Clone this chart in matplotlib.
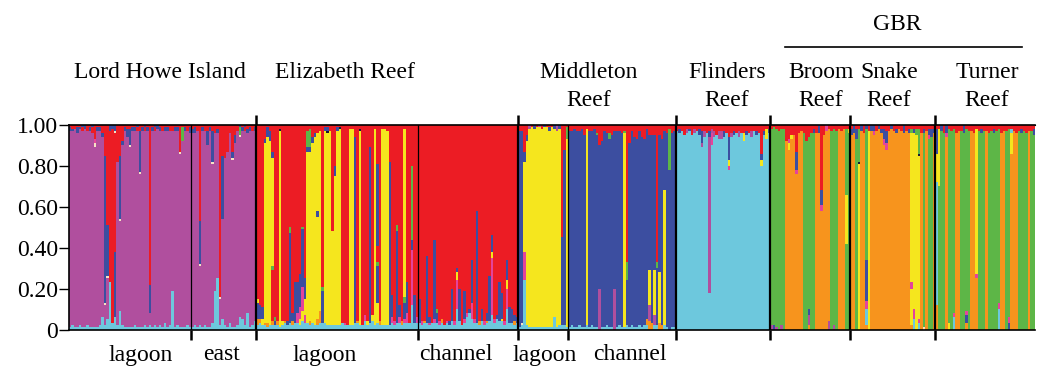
import matplotlib
matplotlib.use("Agg")
import matplotlib.pyplot as plt

plt.rcParams['font.family'] = ['Liberation Serif', 'DejaVu Serif']

# cluster colours
cluster_colors = {
    'P': '#B04F9E',  # purple
    'R': '#EC1C24',  # red
    'B': '#3C4EA0',  # blue
    'Y': '#F5E61E',  # yellow
    'C': '#6DC8DD',  # cyan
    'G': '#5DB647',  # green
    'O': '#F7941D',  # orange
    'M': '#E4449B',  # pink
    'W': '#F6E2C4',  # pale dot
    'K': '#1A1A30',  # dark dot
}

# each individual: cluster memberships (percent), listed bottom to top
lhi_lagoon = [
    "C1 P96 B2 R1", "C2 P95 B1 R2", "C1 P97 R2", "C1 P95 B3 R1", "C2 P96 B1 R1",
    "C1 P96 R2 B1", "C1 P97 B2", "C2 P95 R3", "C1 P96 B2 R1", "C1 P95 R3 B1",
    "C1 P88 W2 M2 R7", "C1 P96 B2 R1", "C2 P95 B2 R1", "C6 P88 B2 R4",
    "C2 P10 W1 B72 R15", "C5 P20 W1 B25 R49", "C23 R74 B3", "C3 R95 B2",
    "C6 B32 R58 W1 B3", "C2 P80 R18", "C9 P44 W1 B31 R15", "C2 P88 B2 R8",
    "C1 P96 B2 R1", "C1 P93 B4 R2", "C1 P88 W1 B8 R2", "C1 P96 B2 R1",
    "C2 P95 B2 R1", "C1 P96 R2 B1", "C1 P75 W1 B20 R3", "C1 P96 B2 R1",
    "C2 P95 R2 B1", "C1 P96 B2 R1", "C2 P6 B14 R78", "C1 P96 B2 R1",
    "C2 P95 R2 B1", "C1 P97 B2", "C2 P95 B2 R1", "C1 P96 R3", "C3 P94 B2 R1",
    "C1 P96 B2 R1", "C2 P95 R3", "C19 P78 R3", "C1 P96 B2 R1", "C2 P95 B2 R1",
    "C1 P85 W1 R13", "C1 P91 G7 R1", "C1 P96 B2 R1", "C2 P95 R3", "C1 P95 B3 R1",
]
lhi_east = [
    "C1 P95 B2 R2", "C2 P94 B3 R1", "C1 P96 R3", "C2 P29 W1 B21 R47",
    "C1 P96 B2 R1", "C2 P95 R3", "C1 P89 B7 R3", "C1 P96 B2 R1",
    "C3 P78 W1 B15 R3", "C19 P77 R4", "C25 P71 B2 R2", "C2 P13 W1 R84",
    "C5 P49 B31 R15", "C2 P82 R16", "C1 P86 R13", "C3 P93 R4",
    "C1 P82 W1 B3 R13", "C1 P90 B4 R5", "C2 P95 R3", "C6 P88 W1 G4 B1",
    "C5 P92 B2 R1", "C2 P95 R2 B1", "C8 P88 B2 R2", "C1 P96 B2 R1",
    "C2 P95 R3", "C4 P93 B2 R1",
]
eliz_lagoon = [
    "C2 O3 B8 Y2 R85", "C3 O2 B7 R88", "C2 Y3 B6 R89", "C2 O1 Y88 B2 R7",
    "C1 O2 Y91 B5 R1", "C2 Y90 B5 R3", "C2 O2 R25 G2 Y53 B3 R13", "C2 B2 G2 R94",
    "C2 O2 R96", "C1 Y96 K1 R2", "C2 Y2 R96", "C3 O1 R96", "C2 B2 R96",
    "C3 B44 G3 R50", "C2 O2 B4 R92", "C3 B20 R77", "C3 M5 B15 R77",
    "C2 Y3 M6 B16 R73", "C4 Y5 M12 B28 G1 R50", "C3 M4 Y8 B10 R75",
    "C3 Y84 B2 G8 R3", "C2 O2 Y83 B2 G9 R2", "C3 Y88 B3 R6", "C2 Y92 B2 R4",
    "C2 O3 Y50 B3 Y38 R4", "C3 O6 Y88 R3", "C3 B16 G2 R79", "C3 Y94 B2 R1",
    "C2 Y94 K1 B2 R1", "C2 Y95 R3", "C2 Y46 R52", "C2 Y73 B5 R20",
    "C2 Y95 B2 R1", "C2 Y96 K1 R1", "C3 R97", "C2 M1 R97", "C2 R98",
    "C2 Y96 R2", "C2 Y96 R2", "C3 B91 R6", "C3 O1 R96", "C2 Y95 K1 R2",
    "C2 R98", "C4 M3 R93", "C2 Y2 R96", "C3 B86 R11", "C4 Y3 R93", "C2 Y96 R2",
    "C3 Y10 B18 G2 R8 B40 R19", "C2 O2 R96", "C2 Y96 R2", "C2 Y96 R2",
    "C2 Y95 R3", "C2 B80 R18", "C3 M3 B11 R83", "C2 M2 R96", "C3 B45 G3 R49",
    "C3 M3 B6 R88", "C2 O2 R96", "C3 M2 B8 G3 Y82 R2", "C3 M5 B15 R77",
    "C3 R97", "C12 M27 B5 G36 R20", "C3 B14 R83", "C3 M3 R94",
]
eliz_channel = [
    "C3 B12 R85", "C2 M2 R96", "C3 O1 R96", "C3 B33 R64", "C2 M1 B3 R94",
    "C3 R97", "C3 M2 B39 R56", "C3 B5 G2 R90", "C2 M2 R96", "C3 O2 R95",
    "C2 R98", "C3 M1 R96", "C2 B2 R96", "C4 B16 R80", "C2 M2 R96",
    "C10 M14 Y4 B2 R70", "C4 B16 R80", "C2 R98", "C3 M2 B14 R81", "C6 M2 R92",
    "C8 B2 R90", "C5 M8 B21 R66", "C3 M2 R95", "C3 B55 R42", "C2 O2 R96",
    "C4 B6 R90", "C2 M2 R96", "C3 O1 B4 R92", "C4 B22 R74", "C7 M28 Y3 B8 R54",
    "C3 M2 R95", "C5 B2 R93", "C4 B19 R77", "C4 Y1 B13 R82", "C2 M2 R96",
    "C10 M10 Y4 B10 R66", "C3 B8 R89", "C3 B7 R90", "C2 O2 B3 R93", "C3 B3 R94",
]
midd_lagoon = [
    "C1 B96 R3", "C2 W1 B94 R3", "C24 M14 Y44 B5 R13", "C2 Y90 B3 R5",
    "C1 Y97 P2", "C1 Y98 R1", "C1 Y97 B2", "C1 Y98 R1", "C1 Y98 P1",
    "C1 Y97 R2", "C1 Y98 B1", "C1 Y98 R1", "C1 Y96 B2 R1", "C1 Y98 R1",
    "C6 Y92 B2", "C1 Y96 P3", "C2 Y96 B2", "C2 B43 R55", "C2 B86 R12",
    "C1 Y92 G6 R1",
]
midd_channel = [
    "C1 B96 R3", "C2 B95 R3", "C1 B97 R2", "C1 B96 R3", "C2 B95 R3",
    "C1 B97 R2", "C1 B94 R5", "C2 Y96 R2", "C1 B96 R3", "C2 B95 R3",
    "C1 B97 R2", "C1 B94 G1 R4", "P20 B70 R10", "C1 B91 R8", "C1 B96 R3",
    "C2 B94 R4", "C1 B92 G3 R4", "C1 B94 R5", "P20 B77 R3", "C1 B96 R3",
    "C2 B95 R3", "C1 B95 R4", "C1 Y95 G1 R3", "C2 B22 G9 R67", "C1 B90 R9",
    "C2 B95 R3", "C1 B93 R6", "C1 B92 R7", "C2 B95 R3", "C1 B93 R6",
    "C2 B91 R7", "C2 O3 B93 R2", "O4 P8 Y17 B66 R5", "O3 B92 R5",
    "C2 P5 Y22 B66 R5", "C2 B28 G3 R67", "O3 Y25 B67 R5", "O2 B91 R7",
    "C2 Y66 B29 R3", "C1 B95 R4", "B78 G20 R2", "C1 B95 R4", "C1 B96 R3",
]
flinders = [
    "C97 R3", "C96 B2 R2", "C97 R3", "C95 R5", "C96 P2 R2", "C97 B1 R2",
    "C95 R5", "C96 P2 R2", "C97 R3", "C95 B3 R2", "C89 P2 B6 R3", "C94 P3 R3",
    "C96 R4", "C18 P76 B3 R3", "C90 M6 P2 R2", "C94 P3 R3", "C95 R5",
    "C93 P4 R3", "C93 P4 R3", "C94 B3 R3", "C96 R4", "C78 M2 Y3 B11 R6",
    "C94 P2 R4", "C95 B2 R3", "C96 R4", "C94 P3 R3", "C96 R4", "C92 Y4 R4",
    "C95 B2 R3", "C96 R4", "C94 P3 R3", "C97 R3", "C95 B2 R3", "C96 R4",
    "C80 Y3 B3 R14", "C95 B2 R3", "C93 Y5 R2", "C96 B2 R2",
]
broom = [
    "P2 G96 R2", "B2 G97 R1", "P1 G97 R2", "G97 R3", "P2 G96 R2", "G98 R2",
    "O92 R8", "O88 Y3 M2 R7", "O93 Y2 R5", "O95 R5", "O76 M2 B9 R13",
    "O96 R4", "O97 R3", "G96 R4", "G92 R8", "O2 P5 B3 G84 R6", "G96 R4",
    "G96 B2 R2", "O96 R4", "O96 B4", "O58 M3 B7 R32", "O95 R5", "O97 M3",
    "P4 O94 R2", "G97 R3", "P2 G96 R2", "G97 R3", "O98 R2", "O97 R3",
    "O98 R2", "G42 Y24 G32 R2", "G96 Y2 R2",
]
snake = [
    "O95 B3 R2", "O96 B4", "G93 B5 R2", "Y81 K1 G16 R2", "O97 B3", "O96 R4",
    "O2 C8 M4 B20 G64 B2", "Y97 R3", "O97 B3", "O95 M2 B3", "O97 R3",
    "O98 B2", "O96 B2 R2", "O90 M3 B5 R2", "O88 M3 B6 R3", "O97 R3",
    "O98 B2", "O97 R3", "O96 B2 R2", "O98 R2", "O97 R3", "O96 B4", "O97 R3",
    "O96 B2 R2", "O2 Y18 M3 Y73 G2 R2", "C5 M5 Y86 B2 R2", "Y95 G3 R2",
    "C3 M2 Y80 K1 G12 R2", "O96 R4", "W1 G95 B2 R2", "O97 R3",
    "G93 M2 B3 R2", "G94 B4 R2", "O96 B2 R2",
]
turner = [
    "O12 C60 Y14 B12 R2", "G70 Y28 R2", "G97 B3", "G96 R4", "O94 M2 B4",
    "Y3 G95 R2", "G97 R3", "C6 M2 G90 R2", "O96 R4", "O97 R3", "G97 R3",
    "G96 B4", "O3 B4 M2 G89 R2", "G97 R3", "O97 R3", "O96 R4",
    "O25 M2 Y71 R2", "G97 R3", "G96 B2 R2", "G97 R3", "O97 R3", "G96 R4",
    "G97 R3", "G96 B2 R2", "G97 R3", "C10 M3 G85 R2", "O96 R4", "O97 R3",
    "G97 R3", "B3 M3 G92 R2", "O86 Y10 C2 R2", "O97 R3", "O96 R4", "G97 R3",
    "G96 B2 R2", "G97 R3", "G96 R4", "O97 R3", "G97 R3", "G95 B3 R2",
]

populations = [lhi_lagoon, lhi_east, eliz_lagoon, eliz_channel, midd_lagoon,
               midd_channel, flinders, broom, snake, turner]
# boundaries after each population: site boundary (True) or sub-sample (False)
major_after = [False, True, False, True, False, True, True, True, True]

top_labels = ["Lord Howe Island", "Elizabeth Reef", "Middleton\nReef", "Flinders\nReef",
              "Broom\nReef", "Snake\nReef", "Turner\nReef"]
top_label_x = [160, 345, 589, 727, 821, 889, 987]
bottom_labels = ["lagoon", "east", "lagoon", "channel", "lagoon", "channel"]
bottom_label_x = [141, 222, 325, 456, 545, 630]

FS = 17
W, H = 1037, 367
fig = plt.figure(figsize=(W / 100, H / 100), dpi=100)
ax = fig.add_axes([69 / W, 37.5 / H, 966 / W, 204.5 / H])

lefts, bottoms, heights, cols = [], [], [], []
idx = 0
bounds = []
for pop in populations:
    for ind in pop:
        segs = [(s[0], float(s[1:])) for s in ind.split()]
        total = sum(v for _, v in segs)
        y0 = 0.0
        for k, v in segs:
            h = v / total
            lefts.append(idx)
            bottoms.append(y0)
            heights.append(h)
            cols.append(cluster_colors[k])
            y0 += h
        idx += 1
    bounds.append(idx)
n_total = idx

ax.bar(lefts, heights, width=1.0, bottom=bottoms, color=cols, align='edge',
       linewidth=0, antialiased=False)

inner = bounds[:-1]
for b, major in zip(inner, major_after):
    ax.axvline(b, color='black', lw=1.6 if major else 0.9, zorder=3)

ax.set_xlim(0, n_total)
ax.set_ylim(0, 1)
ax.set_yticks([0, 0.2, 0.4, 0.6, 0.8, 1.0])
ax.set_yticklabels(['0', '0.20', '0.40', '0.60', '0.80', '1.00'], fontsize=FS)
ax.tick_params(axis='y', length=7, width=1, pad=1)
ax.set_xticks(inner)
ax.tick_params(axis='x', length=7, width=1.8, labelbottom=False)
ax.spines['right'].set_visible(False)
for sp in ['top', 'bottom', 'left']:
    ax.spines[sp].set_linewidth(1.2)

top = ax.secondary_xaxis('top')
top.set_xticks([b for b, m in zip(inner, major_after) if m])
top.tick_params(length=7, width=1.8, labeltop=False)

for lab, x in zip(top_labels, top_label_x):
    for row, line in enumerate(lab.split('\n')):
        fig.text(x / W, 1 - (73 + 28 * row) / H, line, ha='center', va='center',
                 fontsize=FS)
for lab, x in zip(bottom_labels, bottom_label_x):
    fig.text(x / W, 1 - 355 / H, lab, ha='center', va='center', fontsize=FS)

fig.text(897 / W, 1 - 25 / H, "GBR", ha='center', va='center', fontsize=FS)
fig.add_artist(plt.Line2D([785 / W, 1022 / W], [1 - 47 / H, 1 - 47 / H],
                          color='black', lw=1.2))

fig.savefig('out.png', dpi=100)
